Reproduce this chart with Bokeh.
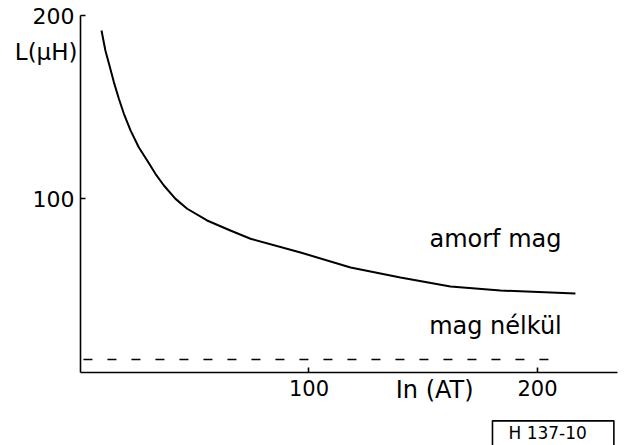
from bokeh.plotting import figure
from bokeh.models import Range1d, FixedTicker, Label
from bokeh.embed import file_html
from bokeh.resources import INLINE

# Data
amorf_x = [9.2, 10.9, 12.8, 14.6, 16.8, 19.0, 21.9, 25.5, 29.2, 32.8, 36.5, 41.6, 46.7,
           55.4, 65.6, 74.4, 96.3, 118.2, 140.0, 161.9, 183.8, 216.6]
amorf_y = [191.8, 180.9, 172.1, 163.6, 154.5, 146.3, 137.2, 128.0, 120.8, 113.5, 107.1, 99.8, 94.4,
           88.0, 82.5, 78.0, 70.5, 62.3, 56.8, 51.9, 49.7, 48.1]
nelkul_x = [1.3, 209.0]
nelkul_y = [12.0, 12.0]
x_ticks = [100, 200]
y_ticks = [100, 200]
x_axis_span = (0, 235)
y_axis_span = (5, 200)

FONT = "DejaVu Sans"

p = figure(width=630, height=445, output_backend="svg", toolbar_location=None,
           x_range=Range1d(-35.0, 240.7), y_range=Range1d(-34.97, 208.2),
           min_border=0)
p.outline_line_color = None
p.grid.visible = False
p.background_fill_color = "white"
p.border_fill_color = "white"

p.xaxis[0].fixed_location = y_axis_span[0]
p.xaxis[0].bounds = x_axis_span
p.yaxis[0].fixed_location = x_axis_span[0]
p.yaxis[0].bounds = y_axis_span

for ax, ticks in ((p.xaxis[0], x_ticks), (p.yaxis[0], y_ticks)):
    ax.ticker = FixedTicker(ticks=ticks)
    ax.minor_tick_line_color = None
    ax.major_tick_in = 5
    ax.major_tick_out = 0
    ax.axis_line_width = 1.6
    ax.major_tick_line_width = 1.6
    ax.axis_line_color = "black"
    ax.major_tick_line_color = "black"
    ax.major_label_text_font = FONT
    ax.major_label_text_color = "black"

p.xaxis.major_label_text_font_size = "21px"
p.xaxis.major_label_standoff = 8
p.yaxis.major_label_text_font_size = "22px"
p.yaxis.major_label_standoff = 6

p.line(amorf_x, amorf_y, line_color="black", line_width=2)
p.line(nelkul_x, nelkul_y, line_color="black", line_width=1.6, line_dash="9 15")

def lab(x, y, text, size="24px", align="center", baseline="alphabetic", **kw):
    p.add_layout(Label(x=x, y=y, text=text, text_font=FONT, text_font_size=size,
                       text_color="black", text_align=align, text_baseline=baseline, **kw))

lab(181.6, 77.6, "amorf mag")
lab(181.6, 30.6, "mag nélkül")
lab(155, -4.4, "In (AT)", size="24px", baseline="middle")
lab(-1.3, 179.8, "L(μH)", size="23px", align="right", baseline="middle")
lab(180.3, -21.5, "H 137-10", size="17px", align="left", baseline="top",
    border_line_color="black", border_line_width=1.6,
    padding=dict(left=16, right=27, top=2, bottom=4))

open("out.html", "w").write(file_html(p, INLINE))
